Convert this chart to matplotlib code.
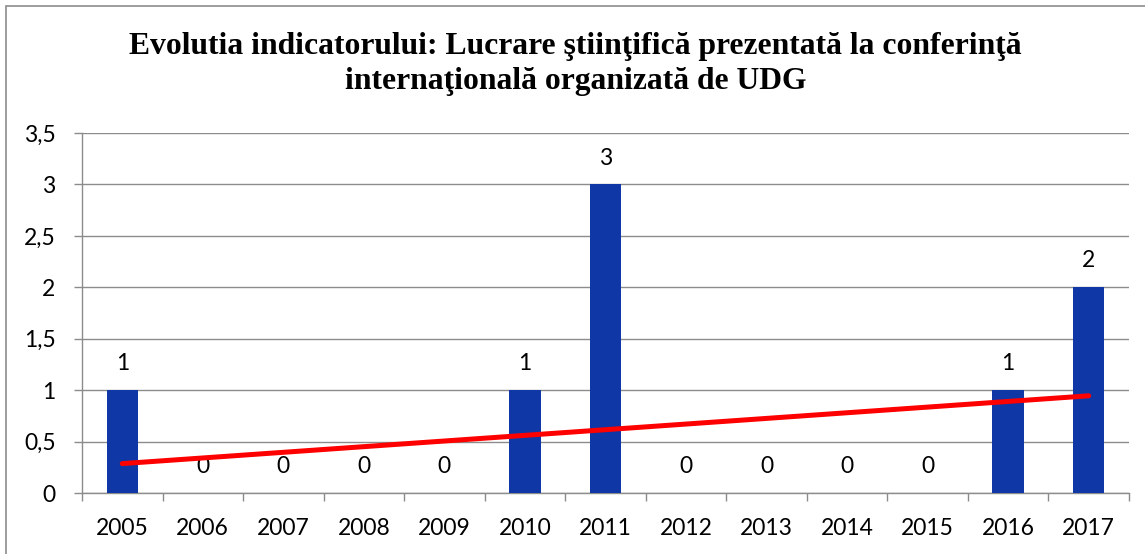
import numpy as np
import matplotlib.pyplot as plt
from matplotlib.ticker import FixedLocator
from matplotlib.patches import Rectangle

# data
years = ["2005", "2006", "2007", "2008", "2009", "2010", "2011",
         "2012", "2013", "2014", "2015", "2016", "2017"]
values = [1, 0, 0, 0, 0, 1, 3, 0, 0, 0, 0, 1, 2]
y_ticks = [0, 0.5, 1, 1.5, 2, 2.5, 3, 3.5]
y_labels = ["0", "0,5", "1", "1,5", "2", "2,5", "3", "3,5"]
title = ("Evolutia indicatorului: Lucrare ştiinţifică prezentată la conferinţă\n"
         "internaţională organizată de UDG")

W, H = 1145, 554
fig = plt.figure(figsize=(W / 100, H / 100), dpi=100)
fig.patches.append(Rectangle((6 / W, -0.1), 1.2, 1 - 6 / H + 0.1,
                             transform=fig.transFigure, fill=False,
                             edgecolor="#8c8c8c", linewidth=1.2))

ax = fig.add_axes([82 / W, 1 - 493 / H, (1129 - 82) / W, (493 - 133) / H])

x = np.arange(len(years))
ax.bar(x, values, width=0.39, color="#0F37A5", zorder=3)

# linear trend line fitted to the series
k, b = np.polyfit(x, values, 1)
ax.plot(x, k * x + b, color="#FF0000", linewidth=3.6,
        solid_capstyle="round", zorder=4)

for xi, v in zip(x, values):
    ax.annotate(str(v), (xi, v), xytext=(0, 19), textcoords="offset points",
                ha="center", va="center", fontsize=16.5, family="Lato")

ax.set_xlim(-0.5, len(years) - 0.5)
ax.set_ylim(0, 3.5)
ax.set_xticks(x)
ax.set_xticklabels(years, fontsize=16.5, family="Lato")
ax.xaxis.set_minor_locator(FixedLocator(np.arange(-0.5, len(years), 1)))
ax.tick_params(axis="x", which="major", length=0, pad=18)
ax.tick_params(axis="x", which="minor", length=6, color="#8c8c8c", width=1)
ax.set_yticks(y_ticks)
ax.set_yticklabels(y_labels, fontsize=16.5, family="Lato")
ax.tick_params(axis="y", length=6, color="#8c8c8c", width=1, pad=13)

ax.grid(axis="y", color="#8c8c8c", linewidth=1, zorder=0)
for s in ["top", "right"]:
    ax.spines[s].set_visible(False)
for s in ["left", "bottom"]:
    ax.spines[s].set_color("#8c8c8c")
    ax.spines[s].set_linewidth(1)

fig.text(0.5 + 0.5 * 6 / W, 1 - 64 / H, title, ha="center", va="center",
         fontsize=22.8, fontweight="bold", family="Liberation Serif",
         linespacing=1.27)

fig.savefig("out.png", dpi=100)
